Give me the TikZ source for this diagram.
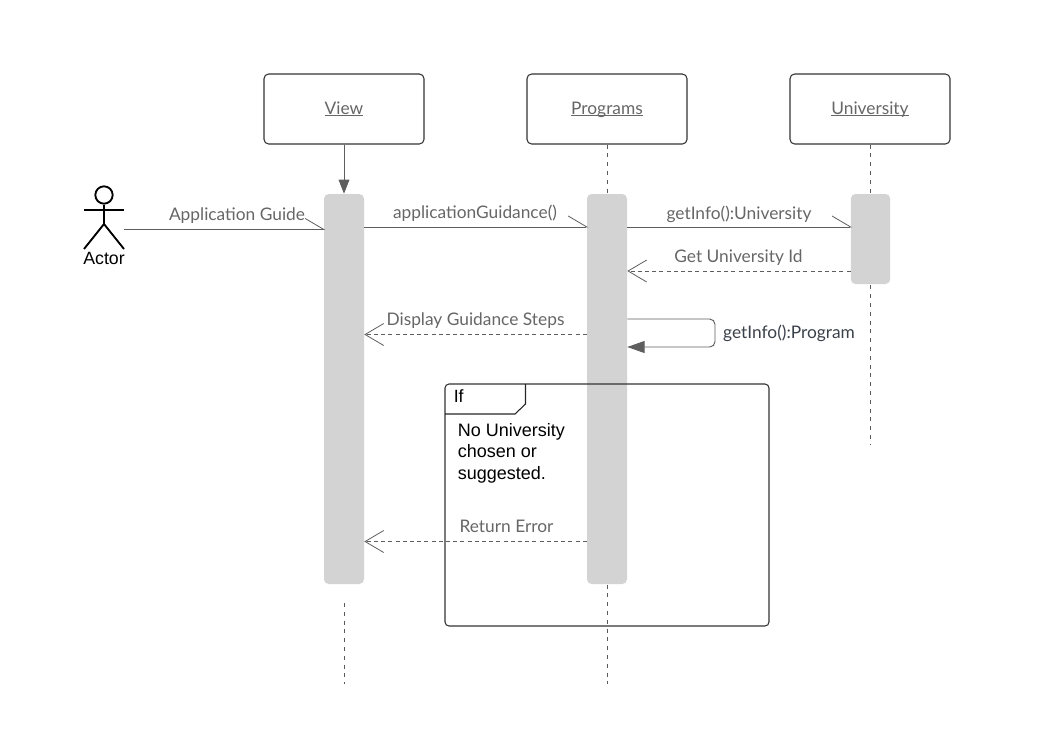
\documentclass[tikz,border=0pt]{standalone}
\usepackage{fontspec}
\setmainfont{Lato}
\newfontfamily\arialf{Liberation Sans}
\usetikzlibrary{arrows.meta}
\definecolor{linec}{HTML}{5E5E5E}
\definecolor{txtc}{HTML}{666666}
\definecolor{barc}{HTML}{D3D3D3}
\definecolor{darkc}{HTML}{3A414A}
\newcommand{\ulb}[1]{\setbox0=\hbox{#1}\rlap{\rule[-1.2pt]{\wd0}{0.55pt}}\box0}
\tikzset{
  objbox/.style={draw=black!80,line width=0.8pt,rounded corners=3.5pt,minimum width=120pt,minimum height=52.5pt,inner sep=0pt,text=txtc,font=\fontsize{13}{15}\selectfont,text height=10.5pt,text depth=3pt},
  actbar/.style={fill=barc,draw=none,rounded corners=3.5pt,minimum width=30pt,inner sep=0pt},
  lifeline/.style={draw=black!65,line width=0.6pt,dash pattern=on 3pt off 3.6pt},
  msg/.style={draw=linec,line width=0.75pt},
  retmsg/.style={draw=linec,line width=0.6pt,dash pattern=on 3pt off 2.4pt},
  halfhead/.style={-{Straight Barb[length=14pt,width=16.5pt,left,line width=0.6pt,sep=-1.2pt]}},
  openhead/.style={-{Straight Barb[length=14pt,width=16.5pt,line width=0.6pt]}},
  msglabel/.style={text=txtc,font=\fontsize{13}{15}\selectfont,inner sep=0pt,anchor=base},
  ariallabel/.style={text=black,font=\arialf\fontsize{13.5}{16.1}\selectfont,inner sep=0pt},
  frameline/.style={draw=black!85,line width=0.8pt},
  actorline/.style={draw=black,line width=1.4pt},
}
\begin{document}
\begin{tikzpicture}[x=0.75pt,y=-0.75pt]
\useasboundingbox (0,0) rectangle (1041,740);
% objects and lifelines
\node[objbox] (view) at (344,109) {\ulb{View}};
\node[objbox] (prog) at (607,109) {\ulb{Programs}};
\node[objbox] (univ) at (870,109) {\ulb{University}};
\coordinate (viewtop) at (344,603);
\coordinate (viewend) at (344,684);
\coordinate (progend) at (607,684);
\coordinate (univend) at (870,444);
\draw[lifeline] (viewtop) -- (viewend);
\draw[lifeline] (prog.south) -- (progend);
\draw[lifeline] (univ.south) -- (univend);
% activation bars
\node[actbar,minimum height=292.5pt] (a1) at (344,389) {};
\node[actbar,minimum height=292.5pt] (a2) at (607,389) {};
\node[actbar,minimum height=67.5pt,minimum width=29.5pt] (a3) at (870.5,239) {};
% view creation arrow
\draw[msg,-{Triangle[length=10.5pt,width=8pt,fill=linec]}] (view.south) -- (a1.north);
% actor
\node[draw=black,line width=1.4pt,circle,minimum size=13pt,inner sep=0pt] (head) at (104,195) {};
\coordinate (hip) at (104,224);
\coordinate (lfoot) at (84,249);
\coordinate (rfoot) at (124,249);
\coordinate (larm) at (84,210);
\coordinate (rarm) at (124,210);
\coordinate (actorright) at (124,229.5);
\draw[actorline] (head.south) -- (hip);
\draw[actorline] (larm) -- (rarm);
\draw[actorline] (lfoot) -- (hip) -- (rfoot);
\node[ariallabel,font=\arialf\fontsize{13.3}{15}\selectfont] (actorlbl) at (104,258) {Actor};
% messages
\draw[msg,halfhead] (actorright) -- (a1.west |- actorright);
\node[msglabel] (m1) at (237,220) {Application Guide};
\coordinate (y2) at (0,227);
\draw[msg,halfhead] (a1.east |- y2) -- (a2.west |- y2);
\node[msglabel] (m2) at (475,218.5) {applicationGuidance()};
\draw[msg,halfhead] (a2.east |- y2) -- (a3.west |- y2);
\node[msglabel] (m3) at (739,219) {getInfo():University};
\coordinate (y3) at (0,271);
\draw[retmsg,openhead] (a3.west |- y3) -- (a2.east |- y3);
\node[msglabel] (m4) at (738.5,262.5) {Get University Id};
\coordinate (y4) at (0,334.5);
\draw[retmsg,openhead] (a2.west |- y4) -- (a1.east |- y4);
\node[msglabel] (m5) at (475.5,325) {Display Guidance Steps};
% self message
\coordinate (y5) at (0,319);
\coordinate (y6) at (0,347);
\coordinate (sr) at (715,333);
\draw[msg,line width=0.7pt,rounded corners=4pt,-{Triangle[length=13pt,width=9pt,fill=linec]}]
  (a2.east |- y5) -- (sr |- y5) -- (sr |- y6) -- (a2.east |- y6);
\node[msglabel,text=darkc] (m6) at (789,338.5) {getInfo():Program};
% frame
\node[frameline,draw=black!80,rounded corners=3pt,minimum width=243pt,minimum height=181.5pt,inner sep=0pt] (frame) at (607,505) {};
\coordinate (tabT) at (525.5,384);
\coordinate (tabM) at (525.5,404);
\coordinate (tabB) at (515,414);
\coordinate (tabL) at (445,414);
\draw[frameline] (tabT) -- (tabM) -- (tabB) -- (tabL);
\node[ariallabel,font=\arialf\fontsize{13.3}{15}\selectfont,anchor=base west] (iflbl) at (453.5,402) {If};
\node[ariallabel,anchor=base west,align=left] (cond) at (457.5,479) {No University\\chosen or\\suggested.};
\coordinate (y7) at (0,541.5);
\draw[retmsg,openhead] (a2.west |- y7) -- (a1.east |- y7);
\node[msglabel] (m7) at (506.5,532) {Return Error};
\end{tikzpicture}
\end{document}
